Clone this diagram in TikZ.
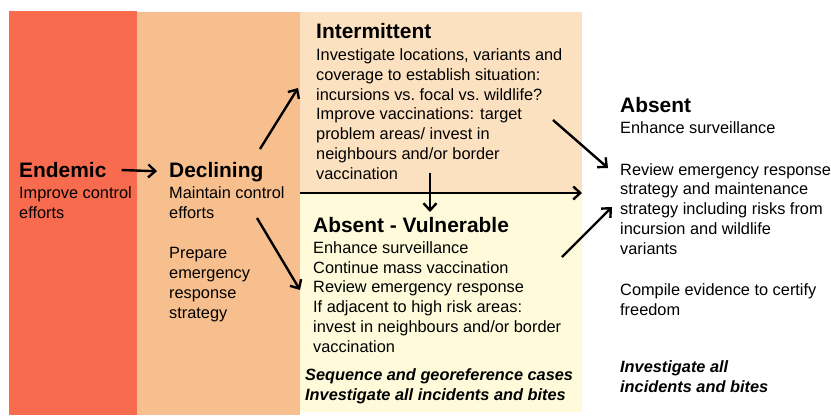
\documentclass[tikz,border=0pt]{standalone}
\usepackage{fontspec}
\setmainfont{Liberation Sans}
\usetikzlibrary{arrows.meta}

\definecolor{endemicred}{HTML}{F96B4F}
\definecolor{decliningpeach}{HTML}{F8BF8E}
\definecolor{intermittentpeach}{HTML}{FCE1C1}
\definecolor{vulnerableyellow}{HTML}{FEFADA}

\newcommand\headsize{\fontsize{21}{25}\selectfont\bfseries}
\newcommand\bodysize{\fontsize{16.4}{19.8}\selectfont}

\begin{document}
\begin{tikzpicture}[x=1bp,y=-1bp,>={Straight Barb[length=7bp,width=13bp]},
  head/.style={anchor=base west,inner sep=0pt,font=\headsize},
  body/.style={anchor=base west,inner sep=0pt,align=left,font=\bodysize},
  note/.style={body,font=\bodysize\bfseries\itshape},
  arr/.style={->,line width=2.4bp}]
  \useasboundingbox (0,0) rectangle (831,415);

  % stage bands
  \fill[endemicred] (9,11) rectangle (137,415);
  \fill[decliningpeach] (137,12) rectangle (300,415);
  \fill[intermittentpeach] (300,12) rectangle (582,194);
  \fill[vulnerableyellow] (300,194) rectangle (582,412);

  % text blocks: base of a multi-line node is its last line
  % endemic
  \node[head] (endemic) at (19,177) {Endemic};
  \node[body] (endemictxt) at (19,218) {Improve control\\efforts};

  % declining
  \node[head] (declining) at (169,177) {Declining};
  \node[body] (decliningtxt) at (169,218) {Maintain control\\efforts};
  \node[body] (decliningprep) at (169,318) {Prepare\\emergency\\response\\strategy};

  % intermittent
  \node[head] (intermittent) at (316,38) {Intermittent};
  \node[body] (intermittenttxt) at (316,179) {Investigate locations, variants and\\coverage to establish situation:\\incursions vs.\ focal vs.\ wildlife?\\Improve vaccinations: target\\problem areas/ invest in\\neighbours and/or border\\vaccination};

  % absent - vulnerable
  \node[head] (vulnerable) at (313,232) {Absent - Vulnerable};
  \node[body] (vulnerabletxt) at (313,352) {Enhance surveillance\\Continue mass vaccination\\Review emergency response\\If adjacent to high risk areas:\\invest in neighbours and/or border\\vaccination};
  \node[note] (vulnerablenote) at (305,400) {Sequence and georeference cases\\Investigate all incidents and bites};

  % absent
  \node[head] (absent) at (620,112) {Absent};
  \node[body] (absenttxt) at (620,133) {Enhance surveillance};
  \node[body] (absentreview) at (620,254) {Review emergency response\\strategy and maintenance\\strategy including risks from\\incursion and wildlife\\variants};
  \node[body] (absentcert) at (620,315) {Compile evidence to certify\\freedom};
  \node[note] (absentnote) at (620,392) {Investigate all\\incidents and bites};

  % arrow ends
  \coordinate (upfrom) at (260,149);
  \coordinate (upto) at (298,88);
  \coordinate (downfrom) at (257,218);
  \coordinate (downto) at (300,290);
  \coordinate (acrossfrom) at (300,193);
  \coordinate (acrossto) at (582,193);
  \coordinate (dropfrom) at (430,173);
  \coordinate (dropto) at (430,212);
  \coordinate (intfrom) at (553,120);
  \coordinate (intto) at (608,168);
  \coordinate (vulfrom) at (562,257);
  \coordinate (vulto) at (612,207);

  \draw[arr,shorten <=15bp,shorten >=12bp] (endemic.east) -- (declining.west);
  \draw[arr] (upfrom) -- (upto);
  \draw[arr] (downfrom) -- (downto);
  \draw[arr] (acrossfrom) -- (acrossto);
  \draw[arr] (dropfrom) -- (dropto);
  \draw[arr] (intfrom) -- (intto);
  \draw[arr] (vulfrom) -- (vulto);
\end{tikzpicture}
\end{document}
